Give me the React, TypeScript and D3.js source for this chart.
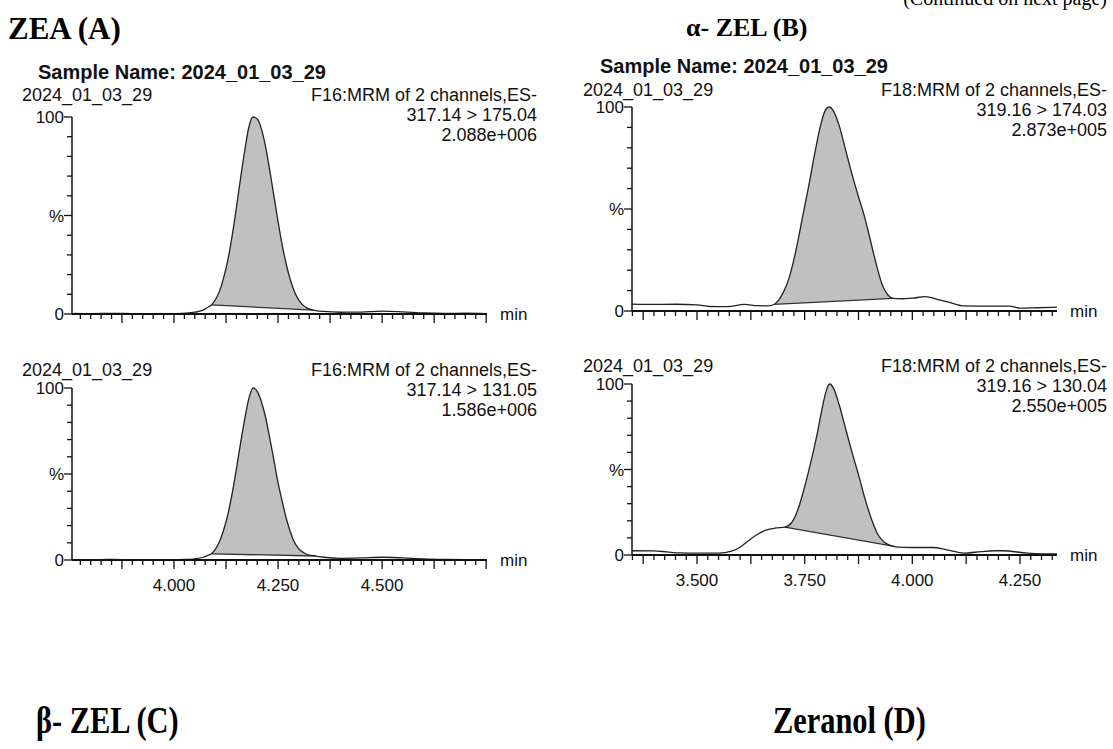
import React, { useEffect, useRef } from "react";
import * as d3 from "d3";

const W = 1113;
const H = 749;

const sampleName = "2024_01_03_29";
const titles = ["ZEA (A)", "α- ZEL (B)", "β- ZEL (C)", "Zeranol (D)"];
const cutNote = "(Continued on next page)";

// ZEA, 317.14 > 175.04
const zeaQuantTime = [3.76, 3.8, 3.85, 3.9, 3.95, 4.0, 4.03, 4.05, 4.07, 4.08, 4.09, 4.1, 4.11, 4.12, 4.13, 4.14, 4.15, 4.16, 4.17, 4.18, 4.19, 4.2, 4.21, 4.22, 4.23, 4.24, 4.25, 4.26, 4.27, 4.28, 4.29, 4.3, 4.31, 4.32, 4.335, 4.36, 4.4, 4.45, 4.5, 4.55, 4.6, 4.65, 4.7, 4.75];
const zeaQuantPct = [0.3, 0.2, 0.3, 0.2, 0.1, 0.2, 0.4, 0.9, 2.0, 3.2, 4.6, 7.5, 12, 19, 28, 40, 54, 69, 83, 95, 100, 99, 94, 85, 73, 60, 47, 35, 25, 17, 11, 7, 4.5, 3, 2, 1.3, 0.9, 1.0, 1.5, 1.1, 0.5, 0.3, 0.4, 0.2];

// ZEA, 317.14 > 131.05
const zeaQualTime = zeaQuantTime;
const zeaQualPct = [0.2, 0.2, 0.3, 0.2, 0.1, 0.2, 0.3, 0.7, 1.6, 2.6, 3.6, 6.5, 11, 18, 27, 39, 53, 68, 82, 94, 100, 98, 92, 83, 71, 58, 45, 34, 24, 16, 10, 6.5, 4.5, 3.2, 2.5, 1.6, 1.0, 1.2, 1.6, 1.2, 0.6, 0.3, 0.2, 0.1];

// α-ZEL, 319.16 > 174.03
const alphaQuantTime = [3.349, 3.4, 3.45, 3.5, 3.53, 3.57, 3.61, 3.64, 3.665, 3.679, 3.69, 3.7, 3.715, 3.73, 3.745, 3.76, 3.775, 3.787, 3.797, 3.807, 3.817, 3.83, 3.845, 3.86, 3.875, 3.888, 3.9, 3.915, 3.93, 3.945, 3.955, 3.975, 4.0, 4.03, 4.06, 4.09, 4.12, 4.17, 4.226, 4.25, 4.29, 4.336];
const alphaQuantPct = [3.4, 3.2, 3.3, 3.0, 2.2, 2.1, 3.2, 2.6, 2.5, 3.2, 5.5, 9, 17, 30, 46, 62, 79, 91, 98, 100, 98, 91, 79, 67, 56, 47, 37, 24, 13, 7.5, 6.2, 6.0, 6.3, 7.0, 5.6, 4.0, 2.5, 2.4, 2.4, 1.4, 1.6, 1.9];

// α-ZEL, 319.16 > 130.04
const alphaQualTime = [3.349, 3.4, 3.43, 3.46, 3.5, 3.55, 3.58, 3.6, 3.62, 3.64, 3.66, 3.683, 3.704, 3.72, 3.735, 3.75, 3.765, 3.78, 3.79, 3.8, 3.808, 3.818, 3.83, 3.845, 3.86, 3.875, 3.89, 3.905, 3.92, 3.935, 3.95, 3.965, 4.0, 4.048, 4.08, 4.12, 4.16, 4.19, 4.21, 4.267, 4.3, 4.336];
const alphaQualPct = [2.5, 2.4, 1.8, 1.2, 1.1, 1.1, 2.2, 4.5, 8.5, 12, 14.5, 15.8, 16.3, 19, 27, 40, 55, 72, 85, 96, 100, 97, 88, 74, 60, 47, 33, 21, 12, 7.5, 5.5, 4.6, 4.4, 4.4, 3.0, 1.1, 2.0, 2.5, 2.5, 1.1, 0.7, 0.6];

// integration limits (start, end), min
const zeaQuantPeak = [4.09, 4.335];
const zeaQualPeak = [4.09, 4.34];
const alphaQuantPeak = [3.679, 3.955];
const alphaQualPeak = [3.704, 3.958];

const functions = ["F16:MRM of 2 channels,ES-", "F16:MRM of 2 channels,ES-", "F18:MRM of 2 channels,ES-", "F18:MRM of 2 channels,ES-"];
const transitions = ["317.14 > 175.04", "317.14 > 131.05", "319.16 > 174.03", "319.16 > 130.04"];
const maxCounts = ["2.088e+006", "1.586e+006", "2.873e+005", "2.550e+005"];

const colA = { axisX: 72, endX: 487, textL: 22, textR: 537, domain: [3.755, 4.752], labels: [4.0, 4.25, 4.5] };
const colB = { axisX: 632, endX: 1057, textL: 583, textR: 1107, domain: [3.349, 4.336], labels: [3.5, 3.75, 4.0, 4.25] };

const traces = [
  { time: zeaQuantTime, pct: zeaQuantPct, peak: zeaQuantPeak, col: colA, y100: 117, y0: 314, head: 101, ticks: false },
  { time: zeaQualTime, pct: zeaQualPct, peak: zeaQualPeak, col: colA, y100: 388, y0: 560, head: 376, ticks: true },
  { time: alphaQuantTime, pct: alphaQuantPct, peak: alphaQuantPeak, col: colB, y100: 107, y0: 311, head: 96, ticks: false },
  { time: alphaQualTime, pct: alphaQualPct, peak: alphaQualPeak, col: colB, y100: 384, y0: 555, head: 372, ticks: true },
];

const sans = "'Liberation Sans', Arial, sans-serif";
const serif = "'Liberation Serif', 'Times New Roman', serif";

function interp(time, pct, t) {
  const i = Math.min(time.length - 1, Math.max(1, d3.bisectLeft(time, t)));
  const t0 = time[i - 1], t1 = time[i];
  return pct[i - 1] + (pct[i] - pct[i - 1]) * (t - t0) / (t1 - t0);
}

function drawTrace(root, tr, k) {
  const col = tr.col;
  const x = d3.scaleLinear().domain(col.domain).range([col.axisX, col.endX]);
  const y = d3.scaleLinear().domain([0, 100]).range([tr.y0, tr.y100]);
  const g = root.append("g");

  // header lines
  const hd = g.append("g").attr("font-family", sans).attr("font-size", 18).attr("fill", "#111");
  hd.append("text").attr("x", col.textL).attr("y", tr.head).text(sampleName);
  hd.append("text").attr("x", col.textR).attr("y", tr.head).attr("text-anchor", "end").text(functions[k]);
  hd.append("text").attr("x", col.textR).attr("y", tr.head + 20).attr("text-anchor", "end").text(transitions[k]);
  hd.append("text").attr("x", col.textR).attr("y", tr.head + 40).attr("text-anchor", "end").text(maxCounts[k]);

  // integrated peak
  const [p0, p1] = tr.peak;
  const b0 = interp(tr.time, tr.pct, p0);
  const b1 = interp(tr.time, tr.pct, p1);
  const base = t => b0 + (b1 - b0) * (t - p0) / (p1 - p0);
  const pts = tr.time.map((t, i) => [t, tr.pct[i]]);
  const inPts = [[p0, b0], ...pts.filter(p => p[0] > p0 && p[0] < p1), [p1, b1]];

  g.append("path")
    .datum(inPts)
    .attr("fill", "#c0c0c0")
    .attr("d", d3.area().x(d => x(d[0])).y0(d => y(base(d[0]))).y1(d => y(d[1])).curve(d3.curveMonotoneX));

  g.append("line")
    .attr("x1", x(p0)).attr("y1", y(b0)).attr("x2", x(p1)).attr("y2", y(b1))
    .attr("stroke", "#333").attr("stroke-width", 1.3);

  g.append("path")
    .datum(pts)
    .attr("fill", "none")
    .attr("stroke", "#222")
    .attr("stroke-width", 1.3)
    .attr("d", d3.line().x(d => x(d[0])).y(d => y(d[1])).curve(d3.curveMonotoneX));

  // y axis
  const ya = g.append("g").attr("stroke", "#111");
  ya.append("line").attr("x1", col.axisX).attr("x2", col.axisX).attr("y1", y(0)).attr("y2", y(100)).attr("stroke-width", 1.5);
  ya.selectAll("line.t")
    .data(d3.range(0, 101, 10))
    .join("line")
    .attr("class", "t")
    .attr("x1", d => col.axisX - (d % 50 === 0 ? 8 : 5))
    .attr("x2", col.axisX)
    .attr("y1", d => y(d)).attr("y2", d => y(d))
    .attr("stroke-width", 1.3);

  const yl = g.append("g").attr("font-family", sans).attr("font-size", 17).attr("fill", "#111").attr("text-anchor", "end");
  yl.append("text").attr("x", col.axisX - 8).attr("y", y(100) + 6).text("100");
  yl.append("text").attr("x", col.axisX - 8).attr("y", y(50) + 6).text("%");
  yl.append("text").attr("x", col.axisX - 8).attr("y", y(0) + 6).text("0");

  // x axis: minor ticks every 0.025 min, longer every 0.125 min
  const [d0, d1] = col.domain;
  const minor = d3.range(Math.ceil(d0 / 0.025) * 0.025, d1, 0.025).map(v => +v.toFixed(3));
  const xa = g.append("g").attr("stroke", "#111");
  xa.selectAll("line")
    .data(minor)
    .join("line")
    .attr("x1", d => x(d)).attr("x2", d => x(d))
    .attr("y1", tr.y0)
    .attr("y2", d => tr.y0 + (Math.abs(d / 0.125 - Math.round(d / 0.125)) < 1e-6 ? 9 : 5))
    .attr("stroke-width", 1.3);
  xa.append("line").attr("x1", col.axisX).attr("x2", col.endX).attr("y1", tr.y0).attr("y2", tr.y0).attr("stroke-width", 2);

  g.append("text")
    .attr("x", col.endX + 13).attr("y", tr.y0 + 6)
    .attr("font-family", sans).attr("font-size", 17).attr("fill", "#111")
    .text("min");

  if (tr.ticks) {
    g.append("g")
      .attr("font-family", sans).attr("font-size", 17).attr("fill", "#111").attr("text-anchor", "middle")
      .selectAll("text")
      .data(col.labels)
      .join("text")
      .attr("x", d => x(d))
      .attr("y", tr.y0 + 31)
      .text(d => d3.format(".3f")(d));
  }
}

const App = () => {
  const ref = useRef(null);

  useEffect(() => {
    const svg = d3.select(ref.current);
    svg.selectAll("*").remove();

    svg.append("rect").attr("width", W).attr("height", H).attr("fill", "#fff");

    // panel titles
    const tt = svg.append("g").attr("font-family", serif).attr("font-weight", "bold").attr("fill", "#000");
    tt.append("text").attr("x", 8).attr("y", 39).attr("font-size", 31).text(titles[0]);
    tt.append("text").attr("x", 686).attr("y", 36).attr("font-size", 26).text(titles[1]);
    tt.append("text").attr("transform", "translate(36,733) scale(0.8,1)").attr("font-size", 38).text(titles[2]);
    tt.append("text").attr("transform", "translate(773,733) scale(0.8,1)").attr("font-size", 38).text(titles[3]);

    svg.append("text")
      .attr("x", 1107).attr("y", 5).attr("text-anchor", "end")
      .attr("font-family", serif).attr("font-size", 20).attr("fill", "#000")
      .text(cutNote);

    // sample name headers
    const sn = svg.append("g").attr("font-family", sans).attr("font-weight", "bold").attr("font-size", 20).attr("fill", "#111");
    sn.append("text").attr("x", 38).attr("y", 79).text(`Sample Name: ${sampleName}`);
    sn.append("text").attr("x", 600).attr("y", 73).text(`Sample Name: ${sampleName}`);

    traces.forEach((tr, k) => drawTrace(svg, tr, k));
  }, []);

  return (
    <svg
      ref={ref}
      width={W}
      height={H}
      style={{ position: "absolute", left: 0, top: 0, background: "#fff" }}
    />
  );
};

export default App;
